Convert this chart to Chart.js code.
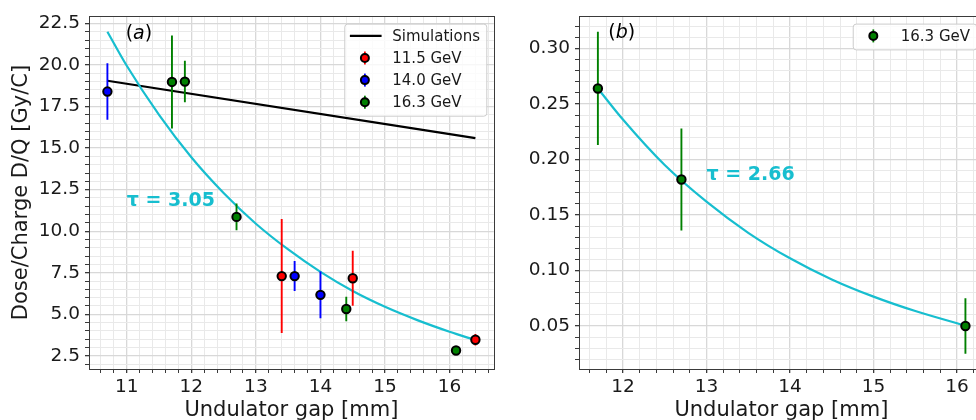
<!DOCTYPE html>
<html><head><meta charset="utf-8">
<script src="https://cdn.jsdelivr.net/npm/chart.js@4.4.0/dist/chart.umd.min.js"></script>
<style>
html,body{margin:0;padding:0;background:#fff;overflow:hidden;width:976px;height:420px;}
#wa{position:absolute;left:0;top:0;width:500px;height:420px;}
#wb{position:absolute;left:490px;top:0;width:500px;height:420px;}
</style></head><body>
<div id="wa"><canvas id="ca"></canvas></div>
<div id="wb"><canvas id="cb"></canvas></div>
<script>
// ---------- Panel (a) data ----------
const gapA115 = [13.4, 14.5, 16.4];
const doseA115 = [7.30, 7.17, 3.47];
const errA115 = [3.43, 1.66, 0.35];
const gapA140 = [10.7, 13.6, 14.0];
const doseA140 = [18.40, 7.30, 6.17];
const errA140 = [1.70, 0.90, 1.40];
const gapA163 = [11.7, 11.9, 12.7, 14.4, 16.1];
const doseA163 = [18.98, 19.00, 10.86, 5.32, 2.82];
const errA163 = [2.80, 1.25, 0.80, 0.73, 0.0];
const simGap = [10.7, 16.4];
const simDose = [19.05, 15.60];
const fitGapA = [10.7, 11.0, 11.5, 12.0, 12.5, 13.0, 13.5, 14.0, 14.5, 15.0, 15.5, 16.0, 16.4];
const fitDoseA = [22.0, 19.95, 17.0, 14.45, 12.3, 10.45, 8.9, 7.55, 6.4, 5.45, 4.65, 3.95, 3.45];
const xTicksA = [11, 12, 13, 14, 15, 16];
const yTicksA = [2.5, 5.0, 7.5, 10.0, 12.5, 15.0, 17.5, 20.0, 22.5];
const seriesLabels = ['Simulations', '11.5 GeV', '14.0 GeV', '16.3 GeV'];
const tauA = {text: 'τ = 3.05', x: 11.0, y: 11.8};
// ---------- Panel (b) data ----------
const gapB163 = [11.7, 12.7, 16.1];
const doseB163 = [0.264, 0.182, 0.050];
const errB163 = [0.051, 0.046, 0.025];
const fitGapB = [11.7, 12.0, 12.5, 13.0, 13.5, 14.0, 14.5, 15.0, 15.5, 16.0, 16.1];
const fitDoseB = [0.264, 0.236, 0.195, 0.162, 0.134, 0.111, 0.092, 0.0765, 0.0635, 0.0525, 0.0505];
const xTicksB = [12, 13, 14, 15, 16];
const yTicksB = [0.05, 0.10, 0.15, 0.20, 0.25, 0.30];
const tauB = {text: 'τ = 2.66', x: 13.0, y: 0.186};

// ---------- styling ----------
const FONT = "'DejaVu Sans', sans-serif";
Chart.defaults.font.family = FONT;
const RED = '#ff0000', BLUE = '#0000ff', GREEN = '#008000', CYAN = '#17becf';
const MAJOR_GRID = '#d8d8d8', MINOR_GRID = '#e9e9e9', TXT = '#1a1a1a', SPINE = '#3a3a3a';

function pts(xs, ys){ return xs.map((x, i) => ({x: x, y: ys[i]})); }
function stepTicks(lo, hi, step){
  const out = []; const n = Math.round((hi - lo) / step);
  for (let k = 0; k <= n; k++) out.push({value: +(lo + k * step).toFixed(5)});
  return out;
}
function isMajor(v, majors){ return majors.some(m => Math.abs(m - v) < 1e-6); }

const errorBarPlugin = {
  id: 'errbars',
  beforeDatasetDraw(chart, args){
    const ds = chart.data.datasets[args.index];
    if (!ds.errors) return;
    const {ctx, chartArea: a, scales: {x, y}} = chart;
    ctx.save();
    ctx.beginPath(); ctx.rect(a.left, a.top, a.right - a.left, a.bottom - a.top); ctx.clip();
    ctx.beginPath();
    ctx.strokeStyle = ds.errColor; ctx.lineWidth = 1.9;
    ds.data.forEach((p, i) => {
      const e = ds.errors[i]; if (!e) return;
      const px = x.getPixelForValue(p.x);
      ctx.moveTo(px, y.getPixelForValue(p.y - e));
      ctx.lineTo(px, y.getPixelForValue(p.y + e));
    });
    ctx.stroke(); ctx.restore();
  }
};

const framePlugin = {
  id: 'frame',
  afterDatasetsDraw(chart){
    const {ctx, chartArea: a} = chart;
    ctx.save(); ctx.strokeStyle = SPINE; ctx.lineWidth = 1;
    ctx.strokeRect(Math.round(a.left) + 0.5, Math.round(a.top) + 0.5,
                   Math.round(a.right - a.left), Math.round(a.bottom - a.top));
    ctx.restore();
  }
};

const decorPlugin = {
  id: 'decor',
  afterDraw(chart, args, opts){
    const {ctx, chartArea: a, scales: {x, y}} = chart;
    ctx.save();
    if (opts.tau){
      ctx.font = "bold 19px " + FONT; ctx.fillStyle = CYAN;
      ctx.textAlign = 'left'; ctx.textBaseline = 'middle';
      ctx.fillText(opts.tau.text, x.getPixelForValue(opts.tau.x), y.getPixelForValue(opts.tau.y));
    }
    if (opts.tag){
      let px = a.left + opts.tagDx; const py = a.top + opts.tagDy;
      ctx.fillStyle = '#000'; ctx.textAlign = 'left'; ctx.textBaseline = 'middle';
      ctx.font = "19px " + FONT; ctx.fillText('(', px, py); px += ctx.measureText('(').width;
      ctx.font = "italic 19px " + FONT; ctx.fillText(opts.tag, px, py); px += ctx.measureText(opts.tag).width;
      ctx.font = "19px " + FONT; ctx.fillText(')', px, py);
    }
    if (opts.items){
      ctx.font = "15px " + FONT;
      let tw = 0; opts.items.forEach(it => { tw = Math.max(tw, ctx.measureText(it.text).width); });
      const bw = 5.6 + 31.7 + 10.7 + tw + 6.3;
      const n = opts.items.length;
      const bh = 12.3 + (n - 1) * 22.1 + 13.5;
      const bx = a.right - 7.5 - bw, by = a.top + 7.5;
      ctx.beginPath();
      if (ctx.roundRect) ctx.roundRect(bx + 0.5, by + 0.5, bw, bh, 3); else ctx.rect(bx + 0.5, by + 0.5, bw, bh);
      ctx.fillStyle = 'rgba(255,255,255,0.8)'; ctx.fill();
      ctx.strokeStyle = '#cccccc'; ctx.lineWidth = 1; ctx.stroke();
      opts.items.forEach((it, i) => {
        const cy = by + 12.3 + i * 22.1;
        const hx = bx + 5.6;
        if (it.type === 'line'){
          ctx.beginPath(); ctx.strokeStyle = it.color; ctx.lineWidth = 2.2;
          ctx.moveTo(hx, cy); ctx.lineTo(hx + 31.7, cy); ctx.stroke();
        } else {
          const mx = hx + 15;
          ctx.beginPath(); ctx.strokeStyle = it.color; ctx.lineWidth = 1.8;
          ctx.moveTo(mx, cy - 6.5); ctx.lineTo(mx, cy + 6.5); ctx.stroke();
          ctx.beginPath(); ctx.arc(mx, cy, 4, 0, Math.PI * 2);
          ctx.fillStyle = it.color; ctx.fill();
          ctx.strokeStyle = '#000'; ctx.lineWidth = 2; ctx.stroke();
        }
        ctx.fillStyle = TXT; ctx.textAlign = 'left'; ctx.textBaseline = 'middle';
        ctx.fillText(it.text, hx + 31.7 + 10.7, cy + 1);
      });
    }
    ctx.restore();
  }
};

function markerDs(label, xs, ys, errs, color){
  return {type: 'scatter', label: label, data: pts(xs, ys), errors: errs, errColor: color,
          backgroundColor: color, borderColor: '#000', borderWidth: 2, pointRadius: 4.2,
          pointHoverRadius: 4.2, showLine: false, order: 0, clip: false};
}
function lineDs(label, xs, ys, color, order){
  return {type: 'scatter', label: label, data: pts(xs, ys), showLine: true, borderColor: color,
          backgroundColor: color, borderWidth: 2.2, pointRadius: 0, pointHoverRadius: 0,
          cubicInterpolationMode: 'monotone', order: order};
}

function xAxis(min, max, lo, hi, majors){
  return {
    type: 'linear', min: min, max: max,
    afterBuildTicks: s => { s.ticks = stepTicks(lo, hi, 0.2); },
    ticks: {autoSkip: false, maxRotation: 0, padding: 3, color: TXT, font: {size: 18.5},
            callback: v => isMajor(v, majors) ? String(Math.round(v)) : ''},
    grid: {color: c => isMajor(c.tick.value, majors) ? MAJOR_GRID : MINOR_GRID,
           lineWidth: c => isMajor(c.tick.value, majors) ? 1.3 : 1,
           tickColor: SPINE, tickLength: 4, drawTicks: true},
    border: {display: false},
    title: {display: true, text: 'Undulator gap [mm]', color: TXT, font: {size: 21, lineHeight: 1},
            padding: {top: 0, bottom: -1}},
    afterFit: s => { s.height = 51; }
  };
}
function yAxis(min, max, lo, hi, step, majors, dec, title){
  return {
    type: 'linear', min: min, max: max,
    afterBuildTicks: s => { s.ticks = stepTicks(lo, hi, step); },
    ticks: {autoSkip: false, padding: 5, color: TXT, font: {size: 18.5},
            callback: v => isMajor(v, majors) ? v.toFixed(dec) : ''},
    grid: {color: c => isMajor(c.tick.value, majors) ? MAJOR_GRID : MINOR_GRID,
           lineWidth: c => isMajor(c.tick.value, majors) ? 1.3 : 1,
           tickColor: SPINE, tickLength: 4, drawTicks: true},
    border: {display: false},
    title: {display: !!title, text: title || '', color: TXT, font: {size: 21, lineHeight: 1},
            padding: {top: 11.5, bottom: 0}},
    afterFit: s => { s.width = 89; }
  };
}

const common = {responsive: true, maintainAspectRatio: false, animation: false, devicePixelRatio: 1, events: []};

new Chart(document.getElementById('ca'), {
  type: 'scatter',
  data: {datasets: [
    lineDs(seriesLabels[0], simGap, simDose, '#000000', 2),
    lineDs('fit', fitGapA, fitDoseA, CYAN, 1),
    markerDs(seriesLabels[1], gapA115, doseA115, errA115, RED),
    markerDs(seriesLabels[2], gapA140, doseA140, errA140, BLUE),
    markerDs(seriesLabels[3], gapA163, doseA163, errA163, GREEN)
  ]},
  options: Object.assign({}, common, {
    layout: {padding: {top: 13, right: 3, left: 0, bottom: 0}},
    scales: {
      x: xAxis(10.415, 16.685, 10.6, 16.6, xTicksA),
      y: yAxis(1.71, 22.94, 2.0, 22.5, 0.5, yTicksA, 1, 'Dose/Charge D/Q [Gy/C]')
    },
    plugins: {legend: {display: false}, tooltip: {enabled: false},
      decor: {tau: tauA, tag: 'a', tagDx: 36.7, tagDy: 17.7, items: [
        {type: 'line', color: '#000', text: seriesLabels[0]},
        {type: 'marker', color: RED, text: seriesLabels[1]},
        {type: 'marker', color: BLUE, text: seriesLabels[2]},
        {type: 'marker', color: GREEN, text: seriesLabels[3]}]}}
  }),
  plugins: [errorBarPlugin, framePlugin, decorPlugin]
});

new Chart(document.getElementById('cb'), {
  type: 'scatter',
  data: {datasets: [
    lineDs('fit', fitGapB, fitDoseB, CYAN, 1),
    markerDs(seriesLabels[3], gapB163, doseB163, errB163, GREEN)
  ]},
  options: Object.assign({}, common, {
    layout: {padding: {top: 13, right: 2.3, left: 0, bottom: 0}},
    scales: {
      x: xAxis(11.474, 16.32, 11.6, 16.2, xTicksB),
      y: yAxis(0.0113, 0.3292, 0.02, 0.32, 0.01, yTicksB, 2, '')
    },
    plugins: {legend: {display: false}, tooltip: {enabled: false},
      decor: {tau: tauB, tag: 'b', tagDx: 29.3, tagDy: 17, items: [
        {type: 'marker', color: GREEN, text: seriesLabels[3]}]}}
  }),
  plugins: [errorBarPlugin, framePlugin, decorPlugin]
});
</script>
</body></html>
